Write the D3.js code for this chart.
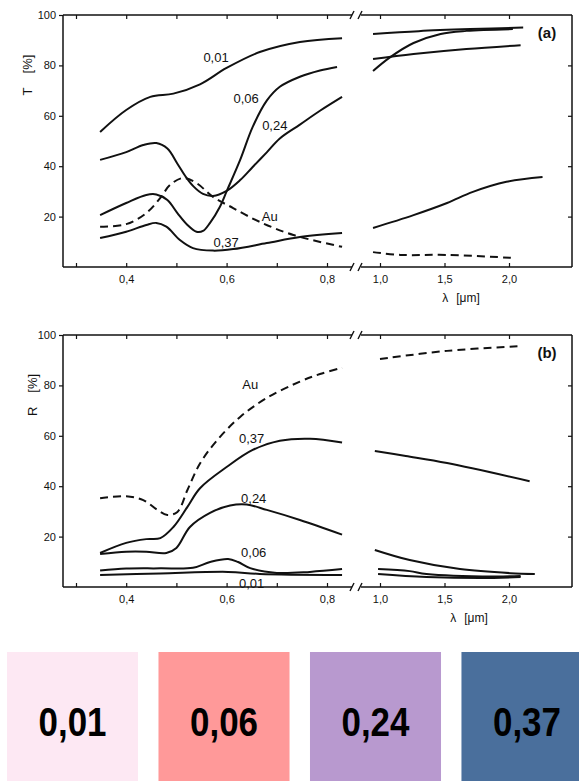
<!DOCTYPE html>
<meta charset="utf-8">
<style>
    body { margin: 0; background: #fff; }
    svg { font-family: "Liberation Sans", Arial, sans-serif; }
    .tick line { stroke: #111; stroke-width: 1.2; }
    .tick text { font-size: 11px; fill: #111; }
</style>
<body>
<script src="https://cdn.jsdelivr.net/npm/d3@7"></script>
<script>

// (a) transmittance T [%] vs wavelength [µm] -- left part (visible) and right part (IR)
var t001L = [[0.348,53.6],[0.4,62.3],[0.448,67.5],[0.494,68.8],[0.547,72.5],[0.6,79],[0.666,85.3],[0.746,89.3],[0.83,90.8]];
var t006L = [[0.348,20.6],[0.4,25.4],[0.44,28.6],[0.46,28.8],[0.482,26.6],[0.502,21.4],[0.522,16.7],[0.54,14],[0.553,14.3],[0.567,17.5],[0.587,24],[0.6,30],[0.627,42.5],[0.652,55.6],[0.68,66],[0.706,71.5],[0.746,75.5],[0.786,78],[0.82,79.4]];
var t024L = [[0.348,42.5],[0.4,45.6],[0.434,48.4],[0.46,49.2],[0.482,47],[0.502,41],[0.518,36],[0.534,32],[0.553,29],[0.573,28.2],[0.6,30.2],[0.627,34.5],[0.652,39.7],[0.68,45.5],[0.706,51],[0.746,56.5],[0.786,62],[0.83,67.5]];
var t037L = [[0.348,11.5],[0.4,14],[0.44,16.7],[0.46,17.5],[0.48,16],[0.507,10.7],[0.533,7.5],[0.573,6.5],[0.613,7.1],[0.68,9.5],[0.746,11.9],[0.83,13.5]];
var tAuL  = [[0.348,16],[0.4,17],[0.44,21.4],[0.468,27.4],[0.487,32.5],[0.513,35.3],[0.54,33.3],[0.573,27.8],[0.613,23.4],[0.666,17.9],[0.733,12.7],[0.83,8]];

var t001R = [[0.946,92.5],[1.3,93.6],[1.7,94.4],[2.11,95]];
var t006R = [[0.946,82.5],[1.26,84.5],[1.67,86.5],[2.09,88]];
var t024R = [[0.946,77.8],[1.08,83.3],[1.26,88.9],[1.47,92.5],[1.67,93.7],[2.03,94.4]];
var t037R = [[0.946,15.5],[1.26,20.6],[1.52,25.4],[1.72,29.8],[1.98,33.8],[2.26,35.7]];
var tAuR  = [[0.946,5.9],[1.16,4.8],[1.52,4.8],[2.03,3.6]];

// (b) reflectance R [%]
var r001L = [[0.348,4.8],[0.468,5.4],[0.603,6],[0.666,5.2],[0.83,4.8]];
var r006L = [[0.348,6.5],[0.4,7.3],[0.468,7.4],[0.533,7.6],[0.567,9.9],[0.603,11.1],[0.623,9.9],[0.647,7.5],[0.7,5.6],[0.766,6],[0.83,7.1]];
var r024L = [[0.348,13.1],[0.4,14],[0.44,14],[0.48,13.5],[0.5,15.5],[0.527,23.8],[0.567,29.4],[0.607,32.3],[0.64,32.7],[0.68,30.6],[0.746,26.6],[0.83,20.8]];
var r037L = [[0.348,13.5],[0.4,17.5],[0.44,19],[0.468,19.4],[0.494,23.8],[0.522,31.8],[0.547,39.2],[0.6,47.6],[0.652,54.4],[0.706,58],[0.766,58.8],[0.83,57.3]];
var rAuL  = [[0.348,35.2],[0.4,36],[0.434,34.5],[0.462,30.6],[0.482,28.6],[0.502,29.8],[0.522,38.5],[0.547,49],[0.58,58],[0.627,67.5],[0.68,75],[0.746,81.5],[0.786,84.5],[0.83,87]];

var r001R = [[0.985,5.2],[1.36,4],[1.88,3.6],[2.09,4]];
var r006R = [[0.985,7.1],[1.23,6.3],[1.36,5.2],[1.88,4.2],[2.09,4.4]];
var r024R = [[0.96,14.7],[1.23,10.7],[1.62,7.1],[2.01,5.5],[2.2,5.2]];
var r037R = [[0.96,54],[1.2,52],[1.52,49.2],[2.16,42]];
var rAuR  = [[1.0,90.5],[1.52,93.7],[2.09,95.6]];

// curve labels [text, λ, value]
var labelsT = [["0,01",0.579,83],["0,06",0.639,66.7],["0,24",0.696,56.3],["Au",0.686,20.2],["0,37",0.599,9.9]];
var labelsR = [["Au",0.647,80.2],["0,37",0.65,59.1],["0,24",0.654,35.3],["0,06",0.654,13.9],["0,01",0.65,1.6]];

var ticksL = [0.3,0.4,0.5,0.6,0.7,0.8], labeledL = [0.4,0.6,0.8];
var ticksR = [1.0,1.5,2.0];
var ticksY = [20,40,60,80,100];

var legendCats = ["0,01","0,06","0,24","0,37"];
var legendColors = ["#fde8f3","#ff9999","#b899cf","#4a6f9c"];

var W = 579, H = 781;
var left = 63, right = 572, brk = 352, brk2 = 361;

var svg = d3.select("body").append("svg")
    .attr("width", W).attr("height", H);

var xL = d3.scaleLinear().domain([0.3, 0.8]).range([76, 327]);
var xR = d3.scaleLinear().domain([1.0, 2.0]).range([380, 509]);

function fmt(d) { return d.toFixed(1).replace(".", ","); }

function panel(top, name, ylab, series, labels) {
    var bottom = top + 252;
    var y = d3.scaleLinear().domain([0, 100]).range([bottom, top]);
    var g = svg.append("g");

    // frame with axis break
    var frame = [
        [left, top, left, bottom], [right, top, right, bottom],
        [left, top, brk, top], [brk2, top, right, top],
        [left, bottom, brk, bottom], [brk2, bottom, right, bottom]
    ];
    g.selectAll("line.frame").data(frame).enter().append("line")
        .attr("x1", d => d[0]).attr("y1", d => d[1])
        .attr("x2", d => d[2]).attr("y2", d => d[3])
        .attr("stroke", "#111").attr("stroke-width", 1.5);
    [brk, brk2 - 1].forEach(function(bx) {
        [top, bottom].forEach(function(by) {
            g.append("line")
                .attr("x1", bx - 2).attr("y1", by + 4)
                .attr("x2", bx + 2).attr("y2", by - 4)
                .attr("stroke", "#111").attr("stroke-width", 1.4);
        });
    });

    // x ticks
    g.append("g").attr("transform", "translate(0," + bottom + ")")
        .call(d3.axisBottom(xL).tickValues(ticksL).tickSizeInner(-4).tickSizeOuter(0).tickPadding(8)
            .tickFormat(d => labeledL.indexOf(d) >= 0 ? fmt(d) : ""))
        .call(a => a.select(".domain").remove());
    g.append("g").attr("transform", "translate(0," + bottom + ")")
        .call(d3.axisBottom(xR).tickValues(ticksR).tickSizeInner(-4).tickSizeOuter(0).tickPadding(8).tickFormat(fmt))
        .call(a => a.select(".domain").remove());
    g.append("g").attr("transform", "translate(0," + top + ")")
        .call(d3.axisTop(xL).tickValues(ticksL).tickSizeInner(-4).tickSizeOuter(0).tickFormat(""))
        .call(a => a.select(".domain").remove());
    g.append("g").attr("transform", "translate(0," + top + ")")
        .call(d3.axisTop(xR).tickValues(ticksR).tickSizeInner(-4).tickSizeOuter(0).tickFormat(""))
        .call(a => a.select(".domain").remove());

    // y ticks
    g.append("g").attr("transform", "translate(" + left + ",0)")
        .call(d3.axisLeft(y).tickValues(ticksY).tickSizeInner(4).tickSizeOuter(0).tickPadding(3))
        .call(a => a.select(".domain").remove());
    g.append("g").attr("transform", "translate(" + right + ",0)")
        .call(d3.axisRight(y).tickValues(ticksY.slice(0, 4)).tickSizeInner(-4).tickSizeOuter(0).tickFormat(""))
        .call(a => a.select(".domain").remove());

    // curves
    series.forEach(function(s) {
        var xs = s.part === "L" ? xL : xR;
        var line = d3.line().x(d => xs(d[0])).y(d => y(d[1])).curve(d3.curveCatmullRom.alpha(0.5));
        g.append("path").datum(s.data)
            .attr("d", line)
            .attr("fill", "none")
            .attr("stroke", "#111")
            .attr("stroke-width", 2)
            .attr("stroke-dasharray", s.dash ? "8,5" : null);
    });

    g.selectAll("text.lab").data(labels).enter().append("text")
        .attr("x", d => xL(d[1])).attr("y", d => y(d[2]))
        .attr("dy", "0.35em").attr("text-anchor", "middle")
        .style("font-size", "13px").attr("fill", "#111")
        .text(d => d[0]);

    // axis titles
    var yl = g.append("text")
        .attr("transform", "translate(" + ylab.x + "," + (top + ylab.dy) + ") rotate(-90)")
        .attr("text-anchor", "middle").attr("dy", "0.35em")
        .style("font-size", "13px").attr("fill", "#111");
    yl.append("tspan").text(ylab.t);
    yl.append("tspan").attr("dx", "14").text("[%]");

    var xl = g.append("text")
        .attr("x", ylab.lx).attr("y", bottom + 35)
        .attr("text-anchor", "middle")
        .style("font-size", "12px").attr("fill", "#111");
    xl.append("tspan").text("λ");
    xl.append("tspan").attr("dx", "8").text("[μm]");

    g.append("text")
        .attr("x", 547).attr("y", top + 18).attr("dy", "0.35em")
        .attr("text-anchor", "middle")
        .style("font-size", "15px").style("font-weight", "bold").attr("fill", "#111")
        .text(name);
}

panel(15, "(a)", {t: "T", x: 27, dy: 60, lx: 461}, [
    {part: "L", data: t001L}, {part: "L", data: t006L}, {part: "L", data: t024L},
    {part: "L", data: t037L}, {part: "L", data: tAuL, dash: true},
    {part: "R", data: t001R}, {part: "R", data: t006R}, {part: "R", data: t024R},
    {part: "R", data: t037R}, {part: "R", data: tAuR, dash: true}
], labelsT);

panel(335, "(b)", {t: "R", x: 32, dy: 60, lx: 469}, [
    {part: "L", data: r001L}, {part: "L", data: r006L}, {part: "L", data: r024L},
    {part: "L", data: r037L}, {part: "L", data: rAuL, dash: true},
    {part: "R", data: r001R}, {part: "R", data: r006R}, {part: "R", data: r024R},
    {part: "R", data: r037R}, {part: "R", data: rAuR, dash: true}
], labelsR);

// colour key squares
var band = d3.scaleBand().domain(legendCats).range([7, 592.5]).paddingInner(0.135).paddingOuter(0);
var key = svg.append("g");
key.selectAll("rect").data(legendCats).enter().append("rect")
    .attr("x", d => band(d)).attr("y", 652)
    .attr("width", band.bandwidth()).attr("height", 130)
    .attr("fill", (d, i) => legendColors[i]);
key.selectAll("text").data(legendCats).enter().append("text")
    .attr("x", d => band(d) + band.bandwidth() / 2).attr("y", 736)
    .attr("text-anchor", "middle")
    .attr("textLength", 68).attr("lengthAdjust", "spacingAndGlyphs")
    .style("font-size", "41px").style("font-weight", "bold").attr("fill", "#000")
    .text(d => d);

</script>
</body>
